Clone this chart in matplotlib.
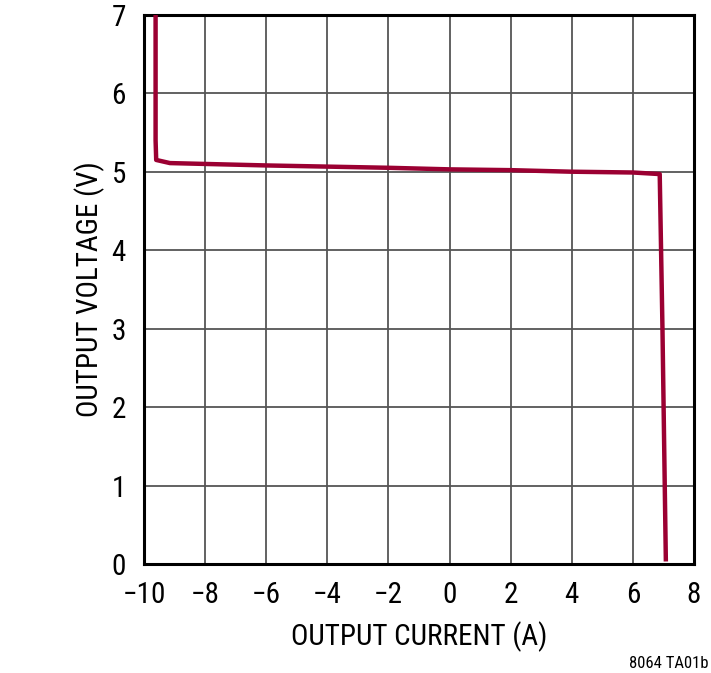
import numpy as np
import matplotlib
matplotlib.use("Agg")
from matplotlib import pyplot as plt

# output current (A) vs output voltage (V)
corriente = [-9.62, -9.62, -9.60, -9.15, -6.0, -2.0, 0.0, 2.0, 4.0, 6.0, 6.88, 6.97, 7.08]
voltaje = [7.0, 5.40, 5.15, 5.11, 5.08, 5.05, 5.03, 5.02, 5.00, 4.99, 4.97, 3.0, 0.06]

xticks = [-10, -8, -6, -4, -2, 0, 2, 4, 6, 8]
yticks = [0, 1, 2, 3, 4, 5, 6, 7]

# narrow fonts first, whichever is installed gets used
plt.rcParams['font.family'] = ['Roboto Condensed', 'Archivo Narrow', 'PT Sans Narrow',
                               'Fira Sans Condensed', 'IBM Plex Sans Condensed',
                               'Liberation Sans', 'DejaVu Sans']

fig = plt.figure(figsize=(7.11, 6.73), dpi=100)
ax = fig.add_axes([0.2025, 0.162, 0.7735, 0.816])

ax.plot(corriente, voltaje, color="#9b0032", lw=3.2, solid_joinstyle="round", zorder=3)

ax.set_xlim(-10, 8)
ax.set_ylim(0, 7)
ax.set_xticks(xticks)
ax.set_yticks(yticks)
ax.grid(True, color="#555555", lw=1.3)
ax.tick_params(axis="x", length=0, labelsize=21, pad=12)
ax.tick_params(axis="y", length=0, labelsize=21, pad=13)
for s in ax.spines.values():
    s.set_linewidth(2.2)
    s.set_color("black")

ax.set_xlabel("OUTPUT CURRENT (A)", fontsize=21, labelpad=9)
ax.set_ylabel("OUTPUT VOLTAGE (V)", fontsize=21, labelpad=5)

fig.text(0.997, 0.003, "8064 TA01b", ha="right", va="bottom", fontsize=12)

plt.savefig("out.png", dpi=100)
